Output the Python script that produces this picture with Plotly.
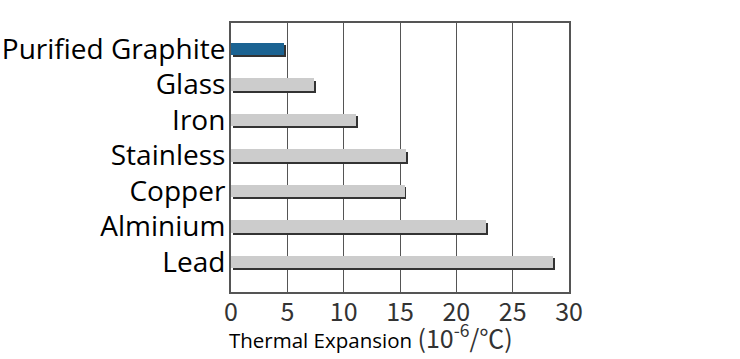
import plotly.graph_objects as go

categories = ["Purified Graphite", "Glass", "Iron", "Stainless", "Copper", "Alminium", "Lead"]
values = [4.7, 7.4, 11.1, 15.5, 15.4, 22.6, 28.6]
bar_colors = ["#1b6392", "#cccccc", "#cccccc", "#cccccc", "#cccccc", "#cccccc", "#cccccc"]
x_ticks = [0, 5, 10, 15, 20, 25, 30]

pos = list(range(len(categories)))
shadow_dx = 0.17
shadow_dy = 0.06

fig = go.Figure()
# shadow bars
fig.add_trace(go.Bar(
    y=[p + shadow_dy for p in pos], x=values, base=shadow_dx, orientation="h",
    width=0.34, marker=dict(color="#333333", line=dict(width=0)),
    hoverinfo="skip", showlegend=False,
))
# main bars
fig.add_trace(go.Bar(
    y=pos, x=values, orientation="h", width=0.34,
    marker=dict(color=bar_colors, line=dict(width=0)),
    showlegend=False,
))

fig.update_layout(
    width=740, height=359,
    margin=dict(l=231, r=171, t=23, b=67, autoexpand=False),
    paper_bgcolor="white", plot_bgcolor="white",
    barmode="overlay", bargap=0,
    xaxis=dict(
        range=[0, 30], tickvals=x_ticks, ticktext=[str(t) for t in x_ticks],
        showgrid=True, gridcolor="#555555", gridwidth=1,
        showline=True, linecolor="#555555", linewidth=2, mirror=True,
        zeroline=False, ticks="", automargin=False, ticklabelstandoff=-3,
        tickfont=dict(family="Noto Sans CJK JP", size=25, color="#333333"),
    ),
    yaxis=dict(
        range=[6.845, -0.732], tickvals=pos, ticktext=categories,
        showgrid=False, zeroline=False,
        showline=True, linecolor="#555555", linewidth=2, mirror=True,
        ticks="", ticklabelstandoff=-2, automargin=False,
        tickfont=dict(family="Open Sans", size=28, color="#000000"),
    ),
    annotations=[dict(
        text="<span style='font-family:Open Sans'>Thermal Expansion</span> "
             "<span style='font-family:Noto Sans CJK JP;font-size:25px;color:#333333'>(10<sup>-6</sup>/℃)</span>",
        xref="paper", yref="paper", x=0, y=0, xanchor="left", yanchor="middle",
        xshift=-4, yshift=-44, showarrow=False,
        font=dict(family="Open Sans", size=20.5, color="#000000"),
    )],
)

fig.write_html(
    "out.html",
    config={"displayModeBar": False},
    post_script="document.body.style.margin='0';document.body.style.overflow='hidden';",
)
